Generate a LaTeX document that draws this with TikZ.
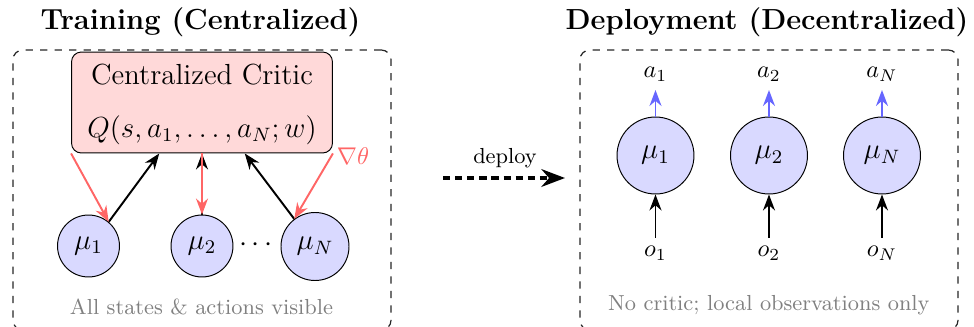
\documentclass[tikz,border=0pt]{standalone}
\usetikzlibrary{arrows.meta}
\definecolor{critfill}{RGB}{255,217,217}
\definecolor{agentfill}{RGB}{217,217,255}
\definecolor{gradred}{RGB}{255,102,102}
\definecolor{actblue}{RGB}{102,102,255}
\begin{document}
\begin{tikzpicture}[x=0.4132pt,y=-0.4132pt,
  panel/.style={draw=black!85, line width=0.5pt, dashed, rounded corners=4pt,
    minimum width=156.2pt, minimum height=115.7pt, inner sep=0pt},
  paneltitle/.style={font=\large\bfseries},
  criticbox/.style={draw, fill=critfill, rounded corners=4pt,
    minimum width=107.8pt, minimum height=41.7pt, inner sep=0pt},
  agent/.style={draw, circle, fill=agentfill, inner sep=0pt, font=\large},
  note/.style={text=black!50, font=\small},
  flow/.style={thick, -{Stealth}},
  grad/.style={thick, gradred, -{Stealth}},
  act/.style={thick, actblue, -{Stealth}},
]
\useasboundingbox (0,0) rectangle (974,326);

% two panels with their headings
\node[panel] (trainbox) at (202,190) {};
\node[panel] (deploybox) at (769,190) {};
\node[paneltitle] (traintitle) at (200.5,22) {Training (Centralized)};
\node[paneltitle] (deploytitle) at (767,22) {Deployment (Decentralized)};

% training: centralized critic and the actors
\node[criticbox] (critic) at (202,102.5) {};
\node[font=\large] (critname) at (202,75) {Centralized Critic};
\node[font=\large] (critq) at (202,130) {$Q(s, a_1, \ldots, a_N; w)$};

\node[agent, minimum size=25.6pt] (tmu1) at (88.5,246) {$\mu_1$};
\node[agent, minimum size=25.6pt] (tmu2) at (202,246) {$\mu_2$};
\node[agent, minimum size=28.1pt] (tmuN) at (315,246.5) {$\mu_N$};
\node[font=\large] (dots) at (256,245) {$\cdots$};

\draw[flow] (tmu1.50) -- (critic.230);
\draw[flow] (tmuN.127) -- (critic.310);
\draw[flow] (tmu2) -- (critic);
\draw[grad] (critic.south west) -- (tmu1.50);
\draw[grad] (critic) -- (tmu2);
\draw[grad] (critic.south east) -- (tmuN.127);
\node[text=gradred] (gradlab) at (353,156) {$\nabla\theta$};

\node[note] (trainnote) at (201.5,306.5) {All states \& actions visible};

% deploy transition
\coordinate (dstart) at (443,178);
\coordinate (dend) at (565,178);
\draw[line width=1.5pt, dash pattern=on 3pt off 2pt, -{Stealth}] (dstart) -- (dend);
\node[font=\small] (deploylab) at (505,158) {deploy};

% deployment: independent actors
\node[agent, minimum size=31.8pt] (dmu1) at (655.5,155.5) {$\mu_1$};
\node[agent, minimum size=31.8pt] (dmu2) at (769,155.5) {$\mu_2$};
\node[agent, minimum size=31.8pt] (dmuN) at (882,155.5) {$\mu_N$};

\node[anchor=south] (da1) at (655.5,90) {$a_1$};
\node[anchor=south] (da2) at (769,90) {$a_2$};
\node[anchor=south] (daN) at (882,90) {$a_N$};
\node[anchor=north] (do1) at (655.5,237.5) {$o_1$};
\node[anchor=north] (do2) at (769,237.5) {$o_2$};
\node[anchor=north] (doN) at (882,237.5) {$o_N$};

\draw[act] (dmu1) -- (da1);
\draw[act] (dmu2) -- (da2);
\draw[act] (dmuN) -- (daN);
\draw[flow] (do1) -- (dmu1);
\draw[flow] (do2) -- (dmu2);
\draw[flow] (doN) -- (dmuN);

\node[note] (deploynote) at (768.8,305) {No critic; local observations only};
\end{tikzpicture}
\end{document}
